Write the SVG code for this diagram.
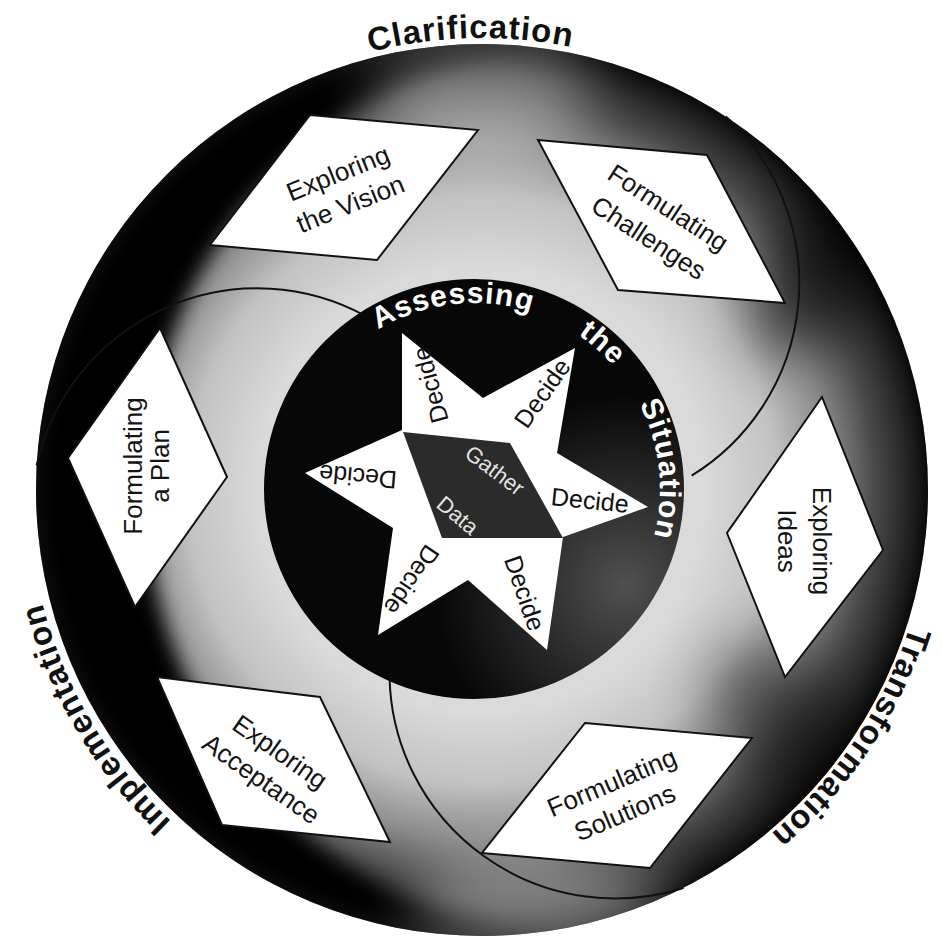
<svg xmlns="http://www.w3.org/2000/svg" width="942" height="936" viewBox="0 0 942 936">
<defs>
<style>
.para{fill:#fff;stroke:#111;stroke-width:2}
.pt{font-family:"Liberation Sans",Arial,sans-serif;font-size:26px;fill:#141414;text-anchor:middle}
.rim{font-family:"Liberation Sans",Arial,sans-serif;font-size:33px;font-weight:bold;fill:#111;letter-spacing:1px;text-anchor:middle}
.ass{font-family:"Liberation Sans",Arial,sans-serif;font-size:30px;font-weight:bold;fill:#fff;letter-spacing:1px;text-anchor:middle}
.dec{font-family:"Liberation Sans",Arial,sans-serif;font-size:25px;fill:#111;text-anchor:middle}
.gd{font-family:"Liberation Sans",Arial,sans-serif;font-size:22px;fill:#e2e2e2;text-anchor:middle}
.arc{fill:none;stroke:#111;stroke-width:2}
</style>
<radialGradient id="ringGrad" gradientUnits="userSpaceOnUse" cx="482" cy="490" r="446">
<stop offset="0" stop-color="#e0e0e0"/>
<stop offset="0.5" stop-color="#dadada"/>
<stop offset="0.66" stop-color="#c2c2c2"/>
<stop offset="0.78" stop-color="#8c8c8c"/>
<stop offset="0.88" stop-color="#4a4a4a"/>
<stop offset="0.96" stop-color="#222"/>
<stop offset="1" stop-color="#151515"/>
</radialGradient>
<radialGradient id="coreGrad" gradientUnits="userSpaceOnUse" cx="625" cy="585" r="190">
<stop offset="0" stop-color="#505050"/>
<stop offset="0.5" stop-color="#2a2a2a"/>
<stop offset="1" stop-color="#070707"/>
</radialGradient>
<filter id="blur10" x="-20%" y="-20%" width="140%" height="140%"><feGaussianBlur stdDeviation="10"/></filter>
<filter id="blur30" x="-50%" y="-50%" width="200%" height="200%"><feGaussianBlur stdDeviation="30"/></filter>
<clipPath id="outerClip"><circle cx="482" cy="490" r="446"/></clipPath>
<path id="rimPathA" d="M 30 490 A 452 452 0 1 1 934 490 A 452 452 0 1 1 30 490"/>
<path id="rimPathB" d="M 28 490 A 454 454 0 1 1 936 490 A 454 454 0 1 1 28 490"/>
<path id="rimPathC" d="M 33 490 A 449 449 0 1 1 931 490 A 449 449 0 1 1 33 490"/>
<path id="innerPath" d="M 288 489 A 186 186 0 1 1 660 489 A 186 186 0 1 1 288 489"/>
</defs>
<rect width="942" height="936" fill="#fff"/>

<g id="ring">
<circle cx="482" cy="490" r="446" fill="url(#ringGrad)"/>
<g clip-path="url(#outerClip)">
<path filter="url(#blur10)" fill="#000" fill-rule="evenodd" d="M 36 490 A 446 446 0 1 1 928 490 A 446 446 0 1 1 36 490 Z M 145 490 A 420 440 0 1 0 985 490 A 420 440 0 1 0 145 490 Z"/>
<ellipse cx="830" cy="260" rx="55" ry="110" transform="rotate(35 830 260)" fill="#000" opacity="0.6" filter="url(#blur30)"/>
<ellipse cx="790" cy="730" rx="60" ry="100" transform="rotate(-40 790 730)" fill="#000" opacity="0.45" filter="url(#blur30)"/>
<ellipse cx="480" cy="100" rx="110" ry="60" fill="#fff" opacity="0.35" filter="url(#blur30)"/>
<ellipse cx="540" cy="905" rx="130" ry="45" fill="#fff" opacity="0.4" filter="url(#blur30)"/>
</g>
</g>

<g id="connectors">
<path class="arc" d="M 389.6 678.7 A 226 226 0 0 0 683.5 888"/>
<path class="arc" d="M 389.6 678.7 A 226 226 0 0 0 683.5 888" transform="rotate(120 482 490)"/>
<path class="arc" d="M 389.6 678.7 A 226 226 0 0 0 683.5 888" transform="rotate(240 482 490)"/>
</g>

<g id="assessing">
<circle cx="474" cy="489" r="210" fill="url(#coreGrad)"/>
<text class="ass"><textPath href="#innerPath" startOffset="23.2%">Assessing</textPath></text>
<text class="ass"><textPath href="#innerPath" startOffset="36.5%">the</textPath></text>
<text class="ass"><textPath href="#innerPath" startOffset="48.3%">Situation</textPath></text>
</g>

<g id="star">
<polygon fill="#fff" points="402,333 483,398 575,348 557,453 648,507 563,537 547,650 468,580 378,635 393,528 305,473 402,430"/>
<polygon fill="#2b2b2b" points="403,432 510,443 563,538 442,538"/>
<g transform="translate(430 385) rotate(-105)"><text class="dec" y="9">Decide</text></g>
<g transform="translate(542 393) rotate(-55)"><text class="dec" y="9">Decide</text></g>
<g transform="translate(590 500) rotate(6)"><text class="dec" y="9">Decide</text></g>
<g transform="translate(525 593) rotate(71)"><text class="dec" y="9">Decide</text></g>
<g transform="translate(412 580) rotate(124)"><text class="dec" y="9">Decide</text></g>
<g transform="translate(358 477) rotate(185)"><text class="dec" y="9">Decide</text></g>
<g transform="translate(495 470) rotate(37)"><text class="gd" y="8">Gather</text></g>
<g transform="translate(458 515) rotate(40)"><text class="gd" y="8">Data</text></g>
</g>

<g id="exploring-vision">
<polygon class="para" points="310,115 478,130 377,260 210,245"/>
<g transform="translate(344 188) rotate(-22)"><text class="pt" y="-7">Exploring</text><text class="pt" y="26">the Vision</text></g>
</g>
<g id="formulating-challenges">
<polygon class="para" points="538,140 707,155 785,303 618,290"/>
<g transform="translate(659 222) rotate(33)"><text class="pt" y="-8">Formulating</text><text class="pt" y="28">Challenges</text></g>
</g>
<g id="exploring-ideas">
<polygon class="para" points="822,397 883,550 785,677 727,533"/>
<g transform="translate(805 541) rotate(90)"><text class="pt" y="-8">Exploring</text><text class="pt" y="27">Ideas</text></g>
</g>
<g id="formulating-solutions">
<polygon class="para" points="585,723 752,738 650,868 482,853"/>
<g transform="translate(618 797) rotate(-23)"><text class="pt" y="-7">Formulating</text><text class="pt" y="26">Solutions</text></g>
</g>
<g id="exploring-acceptance">
<polygon class="para" points="157,677 320,697 390,842 222,825"/>
<g transform="translate(271 765) rotate(35)"><text class="pt" y="-7">Exploring</text><text class="pt" y="26">Acceptance</text></g>
</g>
<g id="formulating-plan">
<polygon class="para" points="160,328 227,477 135,607 68,458"/>
<g transform="translate(147 466) rotate(-90)"><text class="pt" y="-5">Formulating</text><text class="pt" y="22">a Plan</text></g>
</g>

<g id="phase-labels">
<text class="rim"><textPath href="#rimPathA" startOffset="24.6%">Clarification</textPath></text>
<text class="rim"><textPath href="#rimPathC" startOffset="59.4%">Transformation</textPath></text>
<text class="rim"><textPath href="#rimPathB" startOffset="91.5%">Implementation</textPath></text>
</g>
</svg>
